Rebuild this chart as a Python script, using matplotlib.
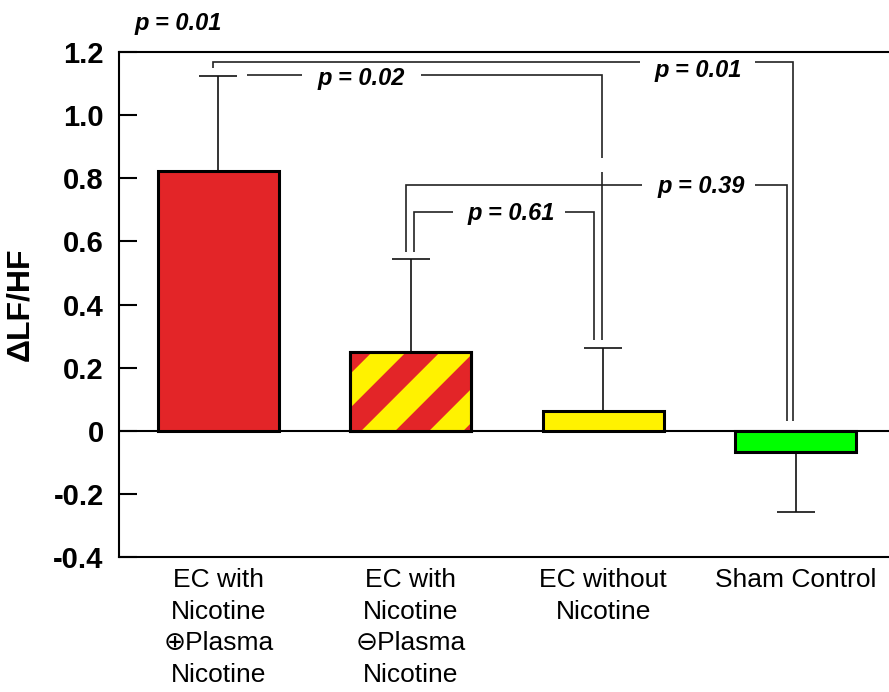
import numpy as np
import matplotlib
matplotlib.use('Agg')
import matplotlib.pyplot as plt
from matplotlib.patches import Polygon
from matplotlib.transforms import IdentityTransform

plt.rcParams['font.family'] = ['Liberation Sans', 'DejaVu Sans']

groups = ['EC with\nNicotine\n\u2295Plasma\nNicotine',
          'EC with\nNicotine\n\u2296Plasma\nNicotine',
          'EC without\nNicotine',
          'Sham Control']
means = [0.823, 0.25, 0.063, -0.066]
sems = [0.302, 0.294, 0.200, 0.193]
colors = ['#e32528', '#fff200', '#fff200', '#00ff00']
stripe_color = '#e32528'

yticks = [-0.4, -0.2, 0, 0.2, 0.4, 0.6, 0.8, 1.0, 1.2]
ylabels = ['-0.4', '-0.2', '0', '0.2', '0.4', '0.6', '0.8', '1.0', '1.2']

# comparison brackets: (line pieces, p text, text x, text baseline y)
brackets = [
    ([[(-0.028, 1.149), (-0.028, 1.168), (2.191, 1.168)],
      [(2.788, 1.168), (2.986, 1.168), (2.986, 0.032)]], 'p = 0.01', 2.492, 1.120),
    ([[(0.149, 1.127), (0.434, 1.127)],
      [(1.053, 1.127), (1.993, 1.127), (1.993, 0.864)],
      [(1.993, 0.820), (1.993, 0.288)]], 'p = 0.02', 0.741, 1.095),
    ([[(0.975, 0.566), (0.975, 0.778), (2.201, 0.778)],
      [(2.788, 0.778), (2.955, 0.778), (2.955, 0.032)]], 'p = 0.39', 2.507, 0.753),
    ([[(1.016, 0.566), (1.016, 0.693), (1.219, 0.693)],
      [(1.801, 0.693), (1.952, 0.693), (1.952, 0.288)]], 'p = 0.61', 1.521, 0.668),
]

fig = plt.figure(figsize=(8.89, 6.92), dpi=100)
ax = fig.add_axes([119 / 889, 135 / 692, 770 / 889, 505 / 692])

x = np.arange(len(means))
bars = ax.bar(x, means, width=0.629, color=colors, edgecolor='black',
              linewidth=2.2, zorder=3)
up = [s if m > 0 else 0 for m, s in zip(means, sems)]
down = [s if m < 0 else 0 for m, s in zip(means, sems)]
ax.errorbar(x, means, yerr=[down, up], fmt='none', ecolor='#111111',
            elinewidth=1.2, capsize=13.7, capthick=1.2, zorder=2)
ax.axhline(0, color='black', lw=1.5, zorder=1)

ax.set_xlim(-0.516, 3.484)
ax.set_ylim(-0.4, 1.2)
ax.set_autoscale_on(False)

# red/yellow diagonal stripes on the second bar
b = bars[1]
x0, y0 = ax.transData.transform((b.get_x(), 0))
x1, y1 = ax.transData.transform((b.get_x() + b.get_width(), b.get_height()))
H = y1 - y0
period = 68
a = 56 - H - period * 4
while a < (x1 - x0) + period:
    pts = [(x0 + a, y0), (x0 + a + period / 2, y0),
           (x0 + a + period / 2 + H, y1), (x0 + a + H, y1)]
    poly = Polygon(pts, closed=True, facecolor=stripe_color, edgecolor='none',
                   transform=IdentityTransform(), zorder=3.1)
    ax.add_patch(poly)
    poly.set_clip_path(b)
    a += period
ax.bar(x[1], means[1], width=0.629, fill=False, edgecolor='black',
       linewidth=2.2, zorder=3.2)

for pieces, label, tx, ty in brackets:
    for piece in pieces:
        xs = [p[0] for p in piece]
        ys = [p[1] for p in piece]
        ax.plot(xs, ys, color='#222222', lw=1.2, solid_capstyle='butt',
                solid_joinstyle='miter', clip_on=False, zorder=4)
    ax.text(tx, ty, label, fontsize=17, fontweight='bold', style='italic',
            ha='center', va='baseline', zorder=5)

ax.text(-0.207, 1.269, 'p = 0.01', fontsize=17, fontweight='bold',
        style='italic', ha='center', va='baseline', clip_on=False)

ax.set_yticks(yticks)
ax.set_yticklabels(ylabels, fontsize=21, fontweight='bold')
ax.tick_params(axis='y', direction='in', length=13, width=1.5, pad=11)
ax.set_xticks(x)
ax.set_xticklabels(groups, fontsize=19, linespacing=1.4)
ax.tick_params(axis='x', length=0, pad=8)

ax.set_ylabel('\u0394LF/HF', fontsize=23, fontweight='bold')
ax.yaxis.set_label_coords(-0.109, 0.5)

ax.spines['right'].set_visible(False)
for s in ['left', 'top', 'bottom']:
    ax.spines[s].set_linewidth(1.5)

fig.savefig('out.png', dpi=100)
